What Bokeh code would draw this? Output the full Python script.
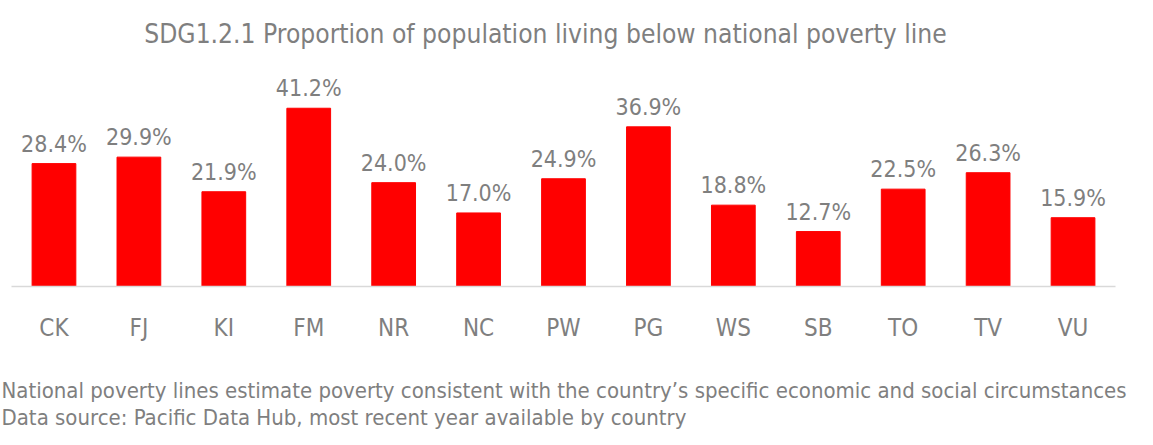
from bokeh.plotting import figure
from bokeh.models import FactorRange, Range1d, Title, ColumnDataSource
from bokeh.core.properties import value
from bokeh.embed import file_html
from bokeh.resources import INLINE

countries = ["CK", "FJ", "KI", "FM", "NR", "NC", "PW", "PG", "WS", "SB", "TO", "TV", "VU"]
poverty = [28.4, 29.9, 21.9, 41.2, 24.0, 17.0, 24.9, 36.9, 18.8, 12.7, 22.5, 26.3, 15.9]
value_labels = [f"{v:.1f}%" for v in poverty]

title_text = "SDG1.2.1 Proportion of population living below national poverty line"
note1 = "National poverty lines estimate poverty consistent with the country\u2019s specific economic and social circumstances"
note2 = "Data source: Pacific Data Hub, most recent year available by country"

FONT = "DejaVu Sans Condensed"
GREY = "#7f7f7f"

src = ColumnDataSource(dict(x=countries, top=poverty, lab=value_labels))

p = figure(
    x_range=FactorRange(*countries, range_padding=0),
    y_range=Range1d(0, 66.1),
    width=1137, height=429,
    output_backend="svg", toolbar_location=None,
    y_axis_location=None, title=None,
    min_border_left=11, min_border_right=22,
    min_border_top=0, min_border_bottom=141,
)
p.outline_line_color = None
p.xgrid.grid_line_color = None
p.ygrid.grid_line_color = None
p.background_fill_color = "white"
p.border_fill_color = "white"

p.vbar(x="x", top="top", width=0.515, source=src, fill_color="#ff0000", line_color="#ff0000")
p.text(x="x", y="top", text="lab", source=src, text_align="center", text_baseline="alphabetic",
       y_offset=-20, text_font_size="23px", text_color=GREY, text_font=value(FONT))

# chart title, drawn inside the (tall) frame
p.text(x=[6.288], y=[58.3], text=[title_text], text_align="center", text_baseline="alphabetic",
       text_font_size="26.2px", text_color=GREY, text_font=value(FONT))

ax = p.xaxis[0]
ax.axis_line_color = "#d9d9d9"
ax.axis_line_width = 1.5
ax.major_tick_line_color = None
ax.minor_tick_line_color = None
ax.major_tick_out = 0
ax.major_tick_in = 0
ax.major_label_standoff = 27
ax.major_label_text_font_size = "24px"
ax.major_label_text_color = GREY
ax.major_label_text_font = FONT
# invisible spacer below the category labels
ax.axis_label = "\u00a0"
ax.axis_label_standoff = 17
ax.axis_label_text_font_size = "10px"
ax.axis_label_text_color = "white"

t1 = Title(text=note1, align="left", offset=-10, standoff=0,
           text_font_size="22px", text_font_style="normal", text_color=GREY, text_font=FONT)
t2 = Title(text=note2, align="left", offset=-10, standoff=0,
           text_font_size="22px", text_font_style="normal", text_color=GREY, text_font=FONT)
p.add_layout(t1, "below")
p.add_layout(t2, "below")

open("out.html", "w").write(file_html(p, INLINE))
